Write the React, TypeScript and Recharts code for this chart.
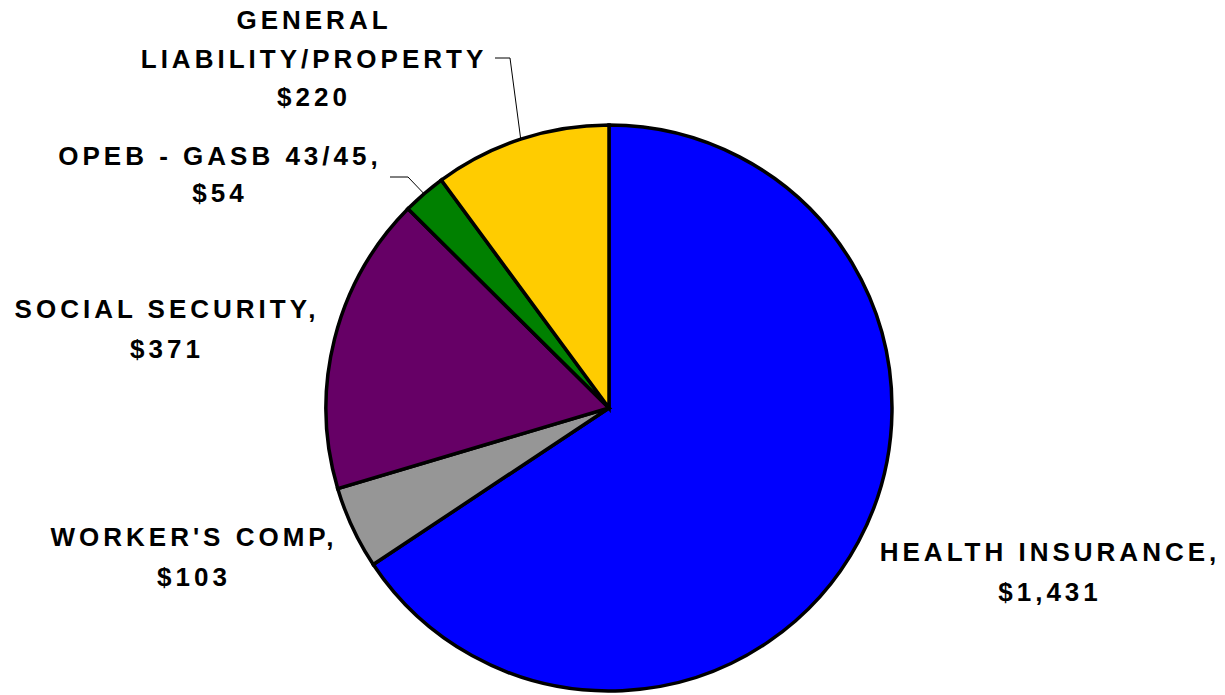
import React from 'react';
import { PieChart, Pie, Cell } from 'recharts';

// Fringe benefit costs ($ thousands), clockwise from 12 o'clock
const categories = ['HEALTH INSURANCE', "WORKER'S COMP", 'SOCIAL SECURITY', 'OPEB - GASB 43/45', 'GENERAL LIABILITY/PROPERTY'];
const amounts = [1431, 103, 371, 54, 220];
const sliceColors = ['#0000FF', '#969696', '#660066', '#008000', '#FFCC00'];

// label text lines per slice
const labelLines: string[][] = [
  ['HEALTH INSURANCE,', '$1,431'],
  ["WORKER'S COMP,", '$103'],
  ['SOCIAL SECURITY,', '$371'],
  ['OPEB - GASB 43/45,', '$54'],
  ['GENERAL', 'LIABILITY/PROPERTY', '$220'],
];

// where each label sits (center x, first baseline y, line gap) and optional leader elbow/end
const labelLayout = [
  { x: 1050, y: 561, gap: 40 },
  { x: 194, y: 546, gap: 40 },
  { x: 167, y: 318, gap: 40 },
  { x: 220, y: 165, gap: 37 , elbow: [408, 177], end: [390, 177] },
  { x: 314, y: 29, gap: 38.5, elbow: [510, 58], end: [495, 58] },
];

const data = categories.map((name, i) => ({ name, value: amounts[i] }));

const RADIAN = Math.PI / 180;

function renderLabel(props: any) {
  const { cx, cy, midAngle, outerRadius, index } = props;
  const lay = labelLayout[index];
  const lines = labelLines[index];
  let leader = null;
  if (lay.elbow) {
    const sx = cx + outerRadius * Math.cos(-midAngle * RADIAN);
    const sy = cy + outerRadius * Math.sin(-midAngle * RADIAN);
    leader = (
      <polyline
        points={`${sx},${sy} ${lay.elbow[0]},${lay.elbow[1]} ${lay.end![0]},${lay.end![1]}`}
        fill="none"
        stroke="#000"
        strokeWidth={1}
      />
    );
  }
  return (
    <g key={`lbl-${index}`}>
      {leader}
      <text
        x={lay.x}
        y={lay.y}
        textAnchor="middle"
        fill="#000"
        style={{ fontFamily: '"Liberation Sans", Arial, sans-serif', fontWeight: 'bold', fontSize: 26, letterSpacing: 4 }}
      >
        {lines.map((t, j) => (
          <tspan key={j} x={lay.x} y={lay.y + j * lay.gap}>
            {t}
          </tspan>
        ))}
      </text>
    </g>
  );
}

export default function App() {
  return (
    <div style={{ position: 'absolute', left: 0, top: 0, width: 1225, height: 695, background: '#fff' }}>
      <PieChart width={1225} height={695} margin={{ top: 0, right: 0, bottom: 0, left: 0 }}>
        <Pie
          data={data}
          dataKey="value"
          nameKey="name"
          cx={609}
          cy={408}
          outerRadius={283}
          startAngle={90}
          endAngle={-270}
          stroke="#000"
          strokeWidth={3.5}
          label={renderLabel}
          labelLine={false}
          isAnimationActive={false}
        >
          {data.map((d, i) => (
            <Cell key={d.name} fill={sliceColors[i]} />
          ))}
        </Pie>
      </PieChart>
    </div>
  );
}
